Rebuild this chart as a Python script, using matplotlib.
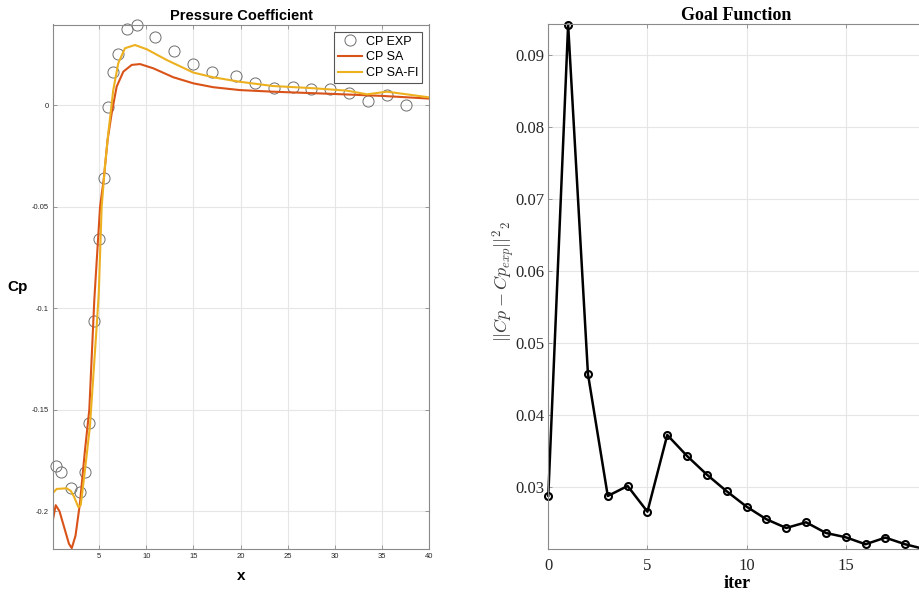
import numpy as np
import matplotlib
matplotlib.use("Agg")
from matplotlib import pyplot as plt

# experimental pressure coefficient
x_exp = [0.46, 0.96, 1.99, 2.97, 3.47, 3.96, 4.49, 4.96, 5.49, 5.9, 6.5, 7.0, 7.96, 8.99,
         10.97, 12.99, 15.0, 16.99, 19.5, 21.5, 23.5, 25.5, 27.5, 29.5, 31.5, 33.5, 35.5, 37.5]
cp_exp = [-0.1777, -0.1806, -0.1884, -0.1905, -0.1806, -0.1567, -0.1063, -0.0657, -0.0358,
          -0.001, 0.0164, 0.0251, 0.0376, 0.0397, 0.0338, 0.0269, 0.0203, 0.0164, 0.0144,
          0.011, 0.0085, 0.0089, 0.0079, 0.008, 0.0059, 0.0021, 0.0049, 0.0]

# SA model
x_sa = [0.1, 0.4, 0.8, 1.3, 1.8, 2.1, 2.5, 2.97, 3.5, 3.96, 4.49, 5.1, 5.5, 5.9, 6.33, 6.86,
        7.57, 8.46, 9.34, 10.75, 12.87, 15.0, 17.1, 19.9, 23.4, 29.8, 35.1, 40.0]
cp_sa = [-0.2043, -0.197, -0.2, -0.208, -0.216, -0.2182, -0.212, -0.196, -0.17, -0.150,
         -0.0959, -0.05, -0.036, -0.017, -0.004, 0.0092, 0.0166, 0.0199, 0.0203, 0.0182,
         0.0138, 0.0108, 0.0089, 0.0075, 0.0067, 0.0056, 0.0046, 0.0033]

# SA-FI model
x_fi = [0.1, 0.5, 1.56, 2.0, 2.34, 2.8, 3.05, 3.5, 4.03, 4.74, 4.96, 5.27, 5.62, 5.97, 6.5,
        7.03, 7.74, 8.8, 10.05, 12.17, 15.0, 17.1, 19.9, 23.4, 27.7, 31.3, 33.4, 35.5,
        37.6, 40.0]
cp_fi = [-0.191, -0.189, -0.1887, -0.19, -0.1928, -0.198, -0.197, -0.1797, -0.158, -0.109,
         -0.093, -0.05, -0.030, -0.0138, 0.0075, 0.0207, 0.0281, 0.0297, 0.0276, 0.0223,
         0.0161, 0.0138, 0.0116, 0.0095, 0.0084, 0.0072, 0.0054, 0.0067, 0.0054, 0.0039]

# goal function history
iters = list(range(20))
goal = [0.02884, 0.0942, 0.04572, 0.02879, 0.03018, 0.02661, 0.03726, 0.03434, 0.03175,
        0.02944, 0.02731, 0.02556, 0.02435, 0.02514, 0.02366, 0.02306, 0.02209, 0.02301,
        0.02209, 0.0214]

W, H = 920, 592
fig = plt.figure(figsize=(W / 100, H / 100), dpi=100)
fig.patch.set_facecolor("white")

spine_col = "#8a8a8a"
grid_col = "#e6e6e6"


def px_axes(x0, y0, x1, y1):
    return fig.add_axes([x0 / W, 1 - y1 / H, (x1 - x0) / W, (y1 - y0) / H])


def style(ax, size, family):
    for s in ax.spines.values():
        s.set_color(spine_col)
        s.set_linewidth(0.8)
    ax.tick_params(direction="in", length=3, width=0.6, color=spine_col,
                   top=True, right=True, labelsize=size, labelcolor="#262626", pad=3)
    for lab in ax.get_xticklabels() + ax.get_yticklabels():
        lab.set_family(family)
    ax.grid(True, color=grid_col, linewidth=0.8)
    ax.set_axisbelow(True)


# ---- Pressure coefficient ----
ax1 = px_axes(52.7, 24.5, 429.3, 549)
ax1.plot(x_exp, cp_exp, "o", ls="none", ms=8, mfc="none", mec="#6e6e6e", mew=0.7,
         label="CP EXP", clip_on=False)
ax1.plot(x_sa, cp_sa, color="#D95319", lw=1.5, label="CP SA")
ax1.plot(x_fi, cp_fi, color="#EDB120", lw=1.5, label="CP SA-FI")
ax1.set_xlim(0.08, 40)
ax1.set_ylim(-0.2186, 0.0398)
ax1.set_xticks([5, 10, 15, 20, 25, 30, 35, 40])
ax1.set_yticks([-0.2, -0.15, -0.1, -0.05, 0])
ax1.set_yticklabels(["-0.2", "-0.15", "-0.1", "-0.05", "0"])
style(ax1, 5.5, "Liberation Sans")
ax1.set_title("Pressure Coefficient", fontsize=10.5, fontweight="bold",
              family="Liberation Sans", pad=3)
ax1.set_xlabel("x", fontsize=11, fontweight="bold", family="Liberation Sans", labelpad=6)
ax1.set_ylabel("Cp", fontsize=11, fontweight="bold", family="Liberation Sans",
               rotation=0, labelpad=10, va="center")
leg = ax1.legend(loc="upper right", prop={"family": "Liberation Sans", "size": 9},
                 fancybox=False, framealpha=1, borderpad=0.3, labelspacing=0.3,
                 handlelength=1.9, handletextpad=0.3, borderaxespad=0.6)
leg.get_frame().set_edgecolor("#555555")
leg.get_frame().set_linewidth(0.8)

# ---- Goal function ----
plt.rcParams["mathtext.fontset"] = "cm"
ax2 = px_axes(548.3, 24.3, 925, 549.3)
ax2.plot(iters, goal, "-o", color="black", lw=1.8, ms=5, mfc="none", mew=1.5,
         clip_on=False)
ax2.set_xlim(0, 19)
ax2.set_ylim(0.02139, 0.09426)
ax2.set_xticks([0, 5, 10, 15])
ax2.set_yticks([0.03, 0.04, 0.05, 0.06, 0.07, 0.08, 0.09])
ax2.set_yticklabels(["0.03", "0.04", "0.05", "0.06", "0.07", "0.08", "0.09"])
style(ax2, 12, "Liberation Serif")
ax2.tick_params(axis="x", pad=6)
ax2.set_title("Goal Function", fontsize=13, fontweight="bold",
              family="Liberation Serif", pad=3)
ax2.set_xlabel("iter", fontsize=13, fontweight="bold", family="Liberation Serif",
               labelpad=1)
ax2.set_ylabel(r"$||Cp - Cp_{exp}||^2{}_2$", fontsize=13, color="#404040")
ax2.yaxis.set_label_coords(-0.084, 0.51)

fig.savefig("out.png", dpi=100)
